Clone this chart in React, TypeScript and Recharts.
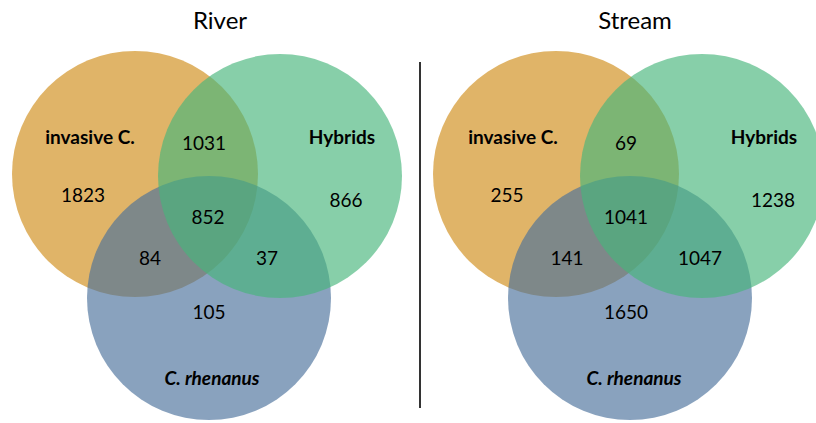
import { ScatterChart, Scatter, XAxis, YAxis, ReferenceLine } from "recharts"

const W = 816
const H = 423

// circle centres and radii, in picture units (1 unit = 1px)
const circles = [
  { set: "invasive C.", x: 135, y: 174, r: 123, color: "#CF8C17" },
  { set: "C. rhenanus", x: 209, y: 298, r: 122, color: "#4A709B" },
  { set: "Hybrids", x: 280, y: 176, r: 122, color: "#46B57B" },
  { set: "invasive C.", x: 556, y: 174, r: 123, color: "#CF8C17" },
  { set: "C. rhenanus", x: 630, y: 298, r: 122, color: "#4A709B" },
  { set: "Hybrids", x: 702, y: 176, r: 122, color: "#46B57B" },
]

const titles = [
  { text: "River", x: 220, y: 21 },
  { text: "Stream", x: 635, y: 21 },
]

const setLabels = [
  { text: "invasive C.", x: 90, y: 137, italic: false },
  { text: "Hybrids", x: 342, y: 137, italic: false },
  { text: "C. rhenanus", x: 212, y: 378, italic: true },
  { text: "invasive C.", x: 513, y: 137, italic: false },
  { text: "Hybrids", x: 764, y: 137, italic: false },
  { text: "C. rhenanus", x: 634, y: 378, italic: true },
]

const riverCounts = [
  { text: "1823", x: 83, y: 195 },
  { text: "1031", x: 204, y: 143 },
  { text: "866", x: 346, y: 200 },
  { text: "852", x: 208, y: 217 },
  { text: "84", x: 150, y: 258 },
  { text: "37", x: 267, y: 258 },
  { text: "105", x: 209, y: 312 },
]

const streamCounts = [
  { text: "255", x: 507, y: 195 },
  { text: "69", x: 626, y: 143 },
  { text: "1238", x: 773, y: 200 },
  { text: "1041", x: 626, y: 217 },
  { text: "141", x: 567, y: 258 },
  { text: "1047", x: 700, y: 258 },
  { text: "1650", x: 626, y: 312 },
]

const FONT = "Lato, 'Open Sans', sans-serif"

const CircleShape = (props: any) => {
  const { cx, cy, payload } = props
  return <circle cx={cx} cy={cy} r={payload.r} fill={payload.color} fillOpacity={0.65} />
}

const makeText = (size: number, weight: string) => (props: any) => {
  const { cx, cy, payload } = props
  return (
    <text
      x={cx}
      y={cy}
      dy="0.35em"
      textAnchor="middle"
      fontFamily={FONT}
      fontSize={size}
      fontWeight={weight}
      fontStyle={payload.italic ? "italic" : "normal"}
      fill="#000"
    >
      {payload.text}
    </text>
  )
}

export default function App() {
  return (
    <div style={{ position: "absolute", left: 0, top: 0, background: "#fff" }}>
      <ScatterChart width={W} height={H} margin={{ top: 0, right: 0, bottom: 0, left: 0 }}>
        <XAxis type="number" dataKey="x" domain={[0, W]} hide allowDataOverflow />
        <YAxis type="number" dataKey="y" domain={[0, H]} hide reversed allowDataOverflow />
        <Scatter data={circles} shape={CircleShape} isAnimationActive={false} />
        <ReferenceLine
          segment={[{ x: 420, y: 62 }, { x: 420, y: 408 }]}
          stroke="#333"
          strokeWidth={2}
        />
        <Scatter data={titles} shape={makeText(24, "normal")} isAnimationActive={false} />
        <Scatter data={setLabels} shape={makeText(19, "bold")} isAnimationActive={false} />
        <Scatter data={riverCounts} shape={makeText(19, "normal")} isAnimationActive={false} />
        <Scatter data={streamCounts} shape={makeText(19, "normal")} isAnimationActive={false} />
      </ScatterChart>
    </div>
  )
}
